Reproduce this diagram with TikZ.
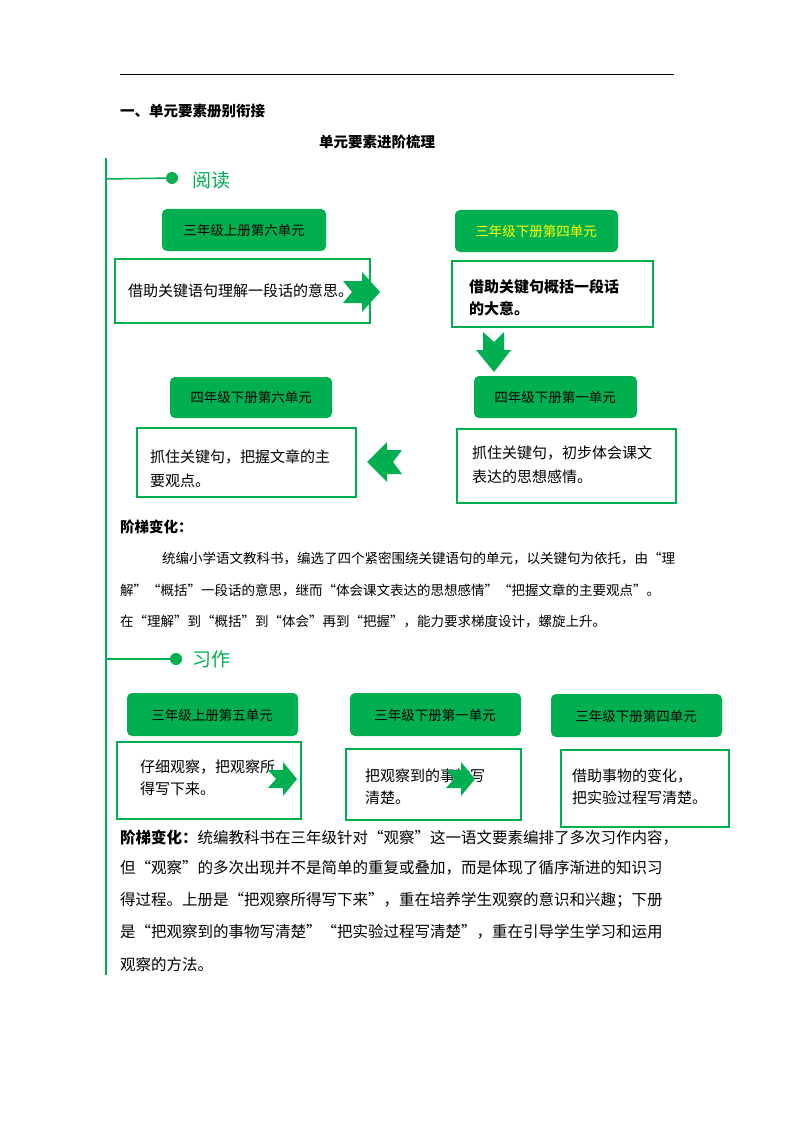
\documentclass[tikz,border=0pt]{standalone}
\usepackage{fontspec}
\setmainfont{Noto Sans CJK SC}
\newfontfamily\cjk{Noto Sans CJK SC}
\definecolor{gr}{HTML}{00B050}
\definecolor{yl}{HTML}{FFFF00}
\begin{document}
\begin{tikzpicture}[x=1pt,y=-1pt,
  hdr/.style={fill=gr,rounded corners=5pt,inner sep=0pt},
  bx/.style={draw=gr,line width=1.2pt,fill=white,inner sep=0pt},
  chev/.style={fill=gr,draw=none},
  t13/.style={font=\fontsize{13.5}{31}\selectfont,anchor=west,inner sep=0pt},
  t15/.style={font=\fontsize{15.5}{31}\selectfont,anchor=west,inner sep=0pt},
  ht/.style={font=\fontsize{13.5}{16}\selectfont,inner sep=0pt}]
\useasboundingbox (0,0) rectangle (794,1123);
\fill[white] (0,0) rectangle (794,1123);
\draw[line width=0.8pt] (120,74) coordinate (tl) -- (674,74) coordinate (tr);
\node[anchor=west,inner sep=0pt,font=\bfseries\fontsize{14.5}{16}\selectfont] (s1) at (120,111) {一、单元要素册别衔接};
\node[inner sep=0pt,font=\bfseries\fontsize{14.5}{16}\selectfont] (s2) at (377,142) {单元要素进阶梳理};
% spine
\draw[gr,line width=1.5pt] (106,158) coordinate (sp1) -- (106,975) coordinate (sp2);
\coordinate (r0) at (106,179);
\node[circle,fill=gr,inner sep=0pt,minimum size=12pt] (rd) at (172,178) {};
\draw[gr,line width=1.5pt] (r0) -- (rd);
\node[anchor=west,inner sep=0pt,text=gr,font=\fontsize{19}{20}\selectfont] (rt) at (192,180) {阅读};
\coordinate (w0) at (106,659);
\node[circle,fill=gr,inner sep=0pt,minimum size=12pt] (wd) at (176,659) {};
\draw[gr,line width=1.5pt] (w0) -- (wd);
\node[anchor=west,inner sep=0pt,text=gr,font=\fontsize{19}{20}\selectfont] (wt) at (192,659) {习作};
% reading headers
\path[hdr] (162,209) rectangle (326,251); \node[ht] (h1) at (244,230) {三年级上册第六单元};
\path[hdr] (455,210) rectangle (618,252); \node[ht,text=yl] (h2) at (536,231) {三年级下册第四单元};
\path[hdr] (170,377) rectangle (332,418); \node[ht] (h3) at (251,397) {四年级下册第六单元};
\path[hdr] (474,376) rectangle (637,418); \node[ht] (h4) at (555,397) {四年级下册第一单元};
% reading boxes
\draw[bx] (115,259) rectangle (370,323);
\node[t15,font=\fontsize{15}{24}\selectfont] (b1) at (128,291) {借助关键语句理解一段话的意思。};
\draw[bx] (452,261) rectangle (653,327);
\node[t15,align=left,font=\bfseries\fontsize{15}{22}\selectfont] (b2) at (469,298) {借助关键句概括一段话\\的大意。};
\draw[bx] (137,428) rectangle (356,497);
\node[t15,align=left,font=\fontsize{15}{24}\selectfont] (b3) at (150,469) {抓住关键句，把握文章的主\\要观点。};
\draw[bx] (457,429) rectangle (676,503);
\node[t15,align=left,font=\fontsize{15}{24}\selectfont] (b4) at (472,465) {抓住关键句，初步体会课文\\表达的思想感情。};
% chevrons
\fill[chev] (343,281) -- (362,281) -- (362,272) -- (380,292) -- (362,312) -- (362,303) -- (343,303) -- (352,292) -- cycle;
\fill[chev] (483,332) -- (483,350) -- (476,350) -- (494,372) -- (511,350) -- (504,350) -- (504,332) -- (494,342) -- cycle;
\fill[chev] (402,450) -- (387,450) -- (387,442) -- (367,462) -- (387,482) -- (387,474) -- (402,474) -- (393,462) -- cycle;
% ladder text 1
\node[anchor=west,inner sep=0pt,font=\bfseries\fontsize{14.5}{16}\selectfont] (l1) at (120,527) {阶梯变化：};
\node[t13] (p1) at (162,558) {统编小学语文教科书，编选了四个紧密围绕关键语句的单元，以关键句为依托，由“理};
\node[t13] (p2) at (120,590) {解”“概括”一段话的意思，继而“体会课文表达的思想感情”“把握文章的主要观点”。};
\node[t13] (p3) at (120,621) {在“理解”到“概括”到“体会”再到“把握”，能力要求梯度设计，螺旋上升。};
% writing
\path[hdr] (127,693) rectangle (298,736); \node[ht] (g1) at (212,715) {三年级上册第五单元};
\path[hdr] (350,693) rectangle (521,736); \node[ht] (g2) at (435,715) {三年级下册第一单元};
\path[hdr] (551,694) rectangle (722,737); \node[ht] (g3) at (636,716) {三年级下册第四单元};
\draw[bx] (117,742) rectangle (301,819);
\node[t15,align=left,font=\fontsize{15}{22}\selectfont] (c1) at (140,778) {仔细观察，把观察所\\得写下来。};
\draw[bx] (346,749) rectangle (521,820);
\node[t15,align=left,font=\fontsize{15}{22}\selectfont] (c2) at (365,787) {把观察到的事物写\\清楚。};
\draw[bx] (561,750) rectangle (729,827);
\node[t15,align=left,font=\fontsize{15}{22}\selectfont] (c3) at (572,787) {借助事物的变化，\\把实验过程写清楚。};
\fill[chev] (268,770) -- (283,770) -- (283,762) -- (297,779) -- (283,796) -- (283,788) -- (268,788) -- (276,779) -- cycle;
\fill[chev] (446,770) -- (461,770) -- (461,762) -- (475,779) -- (461,796) -- (461,788) -- (446,788) -- (454,779) -- cycle;
\node[t15] (q1) at (120,838) {\textbf{阶梯变化：}统编教科书在三年级针对“观察”这一语文要素编排了多次习作内容，};
\node[t15] (q2) at (120,868) {但“观察”的多次出现并不是简单的重复或叠加，而是体现了循序渐进的知识习};
\node[t15] (q3) at (120,900) {得过程。上册是“把观察所得写下来”，重在培养学生观察的意识和兴趣；下册};
\node[t15] (q4) at (120,932) {是“把观察到的事物写清楚”“把实验过程写清楚”，重在引导学生学习和运用};
\node[t15] (q5) at (120,965) {观察的方法。};
\end{tikzpicture}
\end{document}
